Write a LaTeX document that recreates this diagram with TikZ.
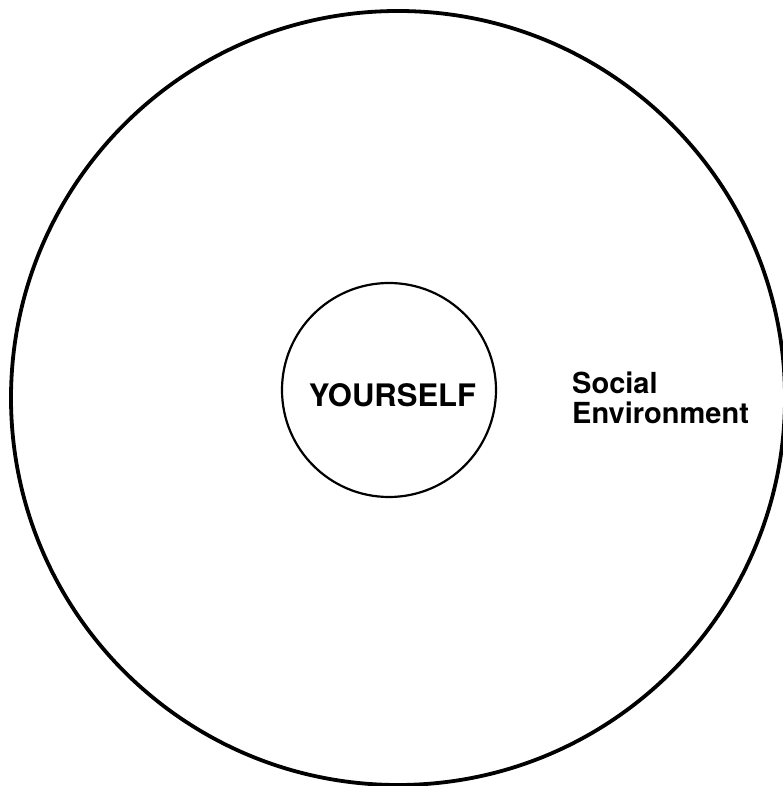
\documentclass[tikz,border=0pt]{standalone}
\usepackage{fontspec}
\setmainfont{TeX Gyre Heros}
\begin{document}
\begin{tikzpicture}[x=1pt,y=1pt,
  ring/.style={draw=black,circle,inner sep=0pt,outer sep=0pt},
  label/.style={inner sep=0pt,font=\bfseries}]
\useasboundingbox (0,0) rectangle (783,786);
\node[ring,line width=3.8pt,minimum size=774pt] (env) at (398,388) {};
\node[ring,line width=2.2pt,minimum size=214pt] (self) at (389,396) {};
\node[label,font=\fontsize{31}{34}\selectfont\bfseries] (you) at (392.5,391) {YOURSELF};
\node[label,font=\fontsize{29}{30}\selectfont\bfseries,align=left,anchor=west] (soc) at (572,388.5) {Social\\Environment};
\end{tikzpicture}
\end{document}
